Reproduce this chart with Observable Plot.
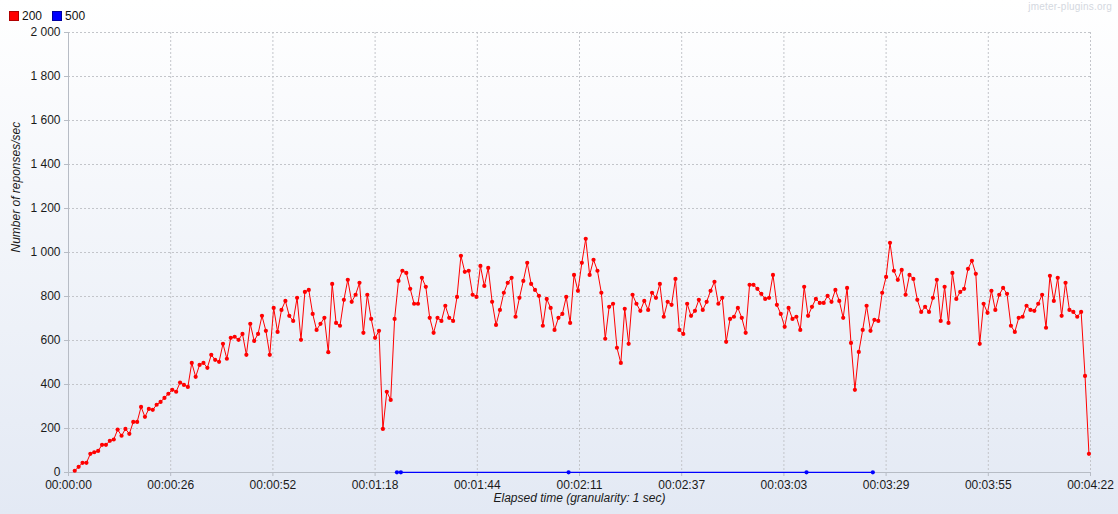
<!DOCTYPE html>
<html>
<head>
<meta charset="utf-8">
<script src="https://cdn.jsdelivr.net/npm/d3@7"></script>
<script src="https://cdn.jsdelivr.net/npm/@observablehq/plot@0.6"></script>
<style>
  html, body { margin: 0; padding: 0; }
  #wrap {
    position: relative; width: 1118px; height: 514px; overflow: hidden;
    background: linear-gradient(to bottom, #ffffff 0%, #e3e9f4 100%);
    font-family: "Liberation Sans", Arial, sans-serif;
  }
  #legend { position: absolute; left: 9px; top: 9px; font-size: 12px; color: #111; display: flex; align-items: center; }
  .sw { display: inline-block; width: 10px; height: 10px; box-sizing: border-box; margin-right: 3px; }
  .item { display: flex; align-items: center; margin-right: 10px; }
  #wm { position: absolute; right: 6px; top: 1px; font-size: 10px; color: #d4d8e0; letter-spacing: 0.2px; }
  #chart { position: absolute; left: 0; top: 0; }
</style>
</head>
<body>
<div id="wrap">
  <div id="chart"></div>
  <div id="legend"></div>
  <div id="wm">jmeter-plugins.org</div>
</div>
<script>
// ---- data ----
const seriesNames = ["200", "500"];
const seriesColors = ["#ff0000", "#0000ff"];

// responses/sec for code 200, one value per second (first sample 1.6 s after start)
const firstSecond200 = 1.6;
const counts200 = [
  8, 26, 44, 44, 85, 92, 98, 126, 126, 144,
  150, 195, 167, 198, 176, 230, 230, 298, 253, 289,
  285, 308, 321, 339, 358, 376, 367, 409, 398, 389,
  498, 435, 489, 498, 476, 535, 512, 503, 585, 517,
  612, 617, 603, 630, 535, 676, 598, 630, 712, 644,
  535, 748, 639, 739, 780, 712, 689, 794, 603, 821,
  830, 721, 648, 676, 703, 547, 857, 680, 667, 785,
  876, 776, 808, 862, 635, 808, 698, 612, 644, 198,
  367, 330, 698, 871, 917, 907, 835, 767, 767, 885,
  844, 703, 635, 703, 689, 758, 703, 689, 798, 985,
  912, 917, 808, 798, 939, 848, 930, 776, 671, 739,
  817, 862, 885, 708, 794, 871, 953, 857, 830, 803,
  667, 789, 748, 648, 703, 721, 798, 680, 898, 826,
  953, 1062, 898, 967, 917, 817, 608, 753, 767, 567,
  498, 744, 585, 808, 767, 735, 780, 739, 817, 794,
  857, 708, 776, 762, 880, 648, 630, 767, 712, 735,
  785, 739, 776, 826, 867, 767, 794, 594, 698, 708,
  748, 703, 635, 853, 853, 835, 812, 789, 794, 898,
  762, 721, 662, 748, 698, 708, 648, 844, 712, 753,
  789, 771, 771, 803, 776, 830, 780, 703, 839, 589,
  376, 548, 648, 758, 644, 694, 689, 817, 889, 1044,
  917, 876, 921, 808, 898, 880, 785, 730, 753, 730,
  794, 876, 689, 844, 680, 907, 789, 821, 835, 926,
  962, 903, 585, 767, 726, 826, 739, 808, 839, 812,
  667, 639, 703, 708, 758, 739, 735, 767, 808, 658,
  894, 780, 885, 712, 862, 739, 730, 708, 730, 439,
  85
];

// responses/sec for code 500 (elapsed seconds of each sample)
const seconds500 = [84.2, 85.2, 128.2, 189.2, 206.2];
const counts500 = [1, 1, 1, 1, 1];

// axes
const xTickStep = 26.2;
const xTickLabels = ["00:00:00", "00:00:26", "00:00:52", "00:01:18", "00:01:44", "00:02:11",
                     "00:02:37", "00:03:03", "00:03:29", "00:03:55", "00:04:22"];
const yTickValues = [0, 200, 400, 600, 800, 1000, 1200, 1400, 1600, 1800, 2000];
const yTickLabels = ["0", "200", "400", "600", "800", "1 000", "1 200", "1 400", "1 600", "1 800", "2 000"];
const xLabel = "Elapsed time (granularity: 1 sec)";
const yLabel = "Number of reponses/sec";

// ---- build ----
const data200 = counts200.map((v, i) => ({t: firstSecond200 + i, v}));
const data500 = seconds500.map((s, i) => ({t: s, v: counts500[i]}));
const xTicks = xTickLabels.map((_, i) => i * xTickStep);

const axisColor = "#b7bcc5";
const gridColor = "#c3c5ca";

const chart = Plot.plot({
  width: 1118,
  height: 514,
  marginLeft: 68,
  marginRight: 28,
  marginTop: 32,
  marginBottom: 42,
  style: {background: "transparent", fontFamily: "'Liberation Sans', Arial, sans-serif", fontSize: "12px", color: "#1a1a1a"},
  x: {domain: [0, 262], label: null},
  y: {domain: [0, 2000], label: null},
  marks: [
    Plot.gridX(xTicks, {stroke: gridColor, strokeOpacity: 1, strokeDasharray: "2,2"}),
    Plot.gridY(yTickValues, {stroke: gridColor, strokeOpacity: 1, strokeDasharray: "2,2"}),
    Plot.ruleX([0], {stroke: axisColor}),
    Plot.ruleY([0], {stroke: axisColor}),
    Plot.axisX(xTicks, {
      tickFormat: d => xTickLabels[Math.round(d / xTickStep)],
      tickSize: 4, tickPadding: 4, stroke: axisColor, fill: "#1a1a1a", label: null
    }),
    Plot.axisY(yTickValues, {
      tickFormat: d => yTickLabels[yTickValues.indexOf(d)],
      tickSize: 4, tickPadding: 4, stroke: axisColor, fill: "#1a1a1a", label: null
    }),
    Plot.line(data200, {x: "t", y: "v", stroke: seriesColors[0], strokeWidth: 1}),
    Plot.dot(data200, {x: "t", y: "v", r: 2.1, fill: seriesColors[0], stroke: "none"}),
    Plot.line(data500, {x: "t", y: "v", stroke: seriesColors[1], strokeWidth: 1.2}),
    Plot.dot(data500, {x: "t", y: "v", r: 2.1, fill: seriesColors[1], stroke: "none"}),
    Plot.text([xLabel], {frameAnchor: "bottom", dy: 29, fontStyle: "italic", fontSize: 12, fill: "#1a1a1a"}),
    Plot.text([yLabel], {frameAnchor: "left", dx: -52, rotate: -90, fontStyle: "italic", fontSize: 12, fill: "#1a1a1a"})
  ]
});
document.getElementById("chart").appendChild(chart);

const legend = document.getElementById("legend");
seriesNames.forEach((name, i) => {
  const item = document.createElement("span");
  item.className = "item";
  const sw = document.createElement("span");
  sw.className = "sw";
  sw.style.background = seriesColors[i];
  sw.style.border = "1px solid " + (i === 0 ? "#b00000" : "#0000a0");
  item.appendChild(sw);
  item.appendChild(document.createTextNode(name));
  legend.appendChild(item);
});
</script>
</body>
</html>
